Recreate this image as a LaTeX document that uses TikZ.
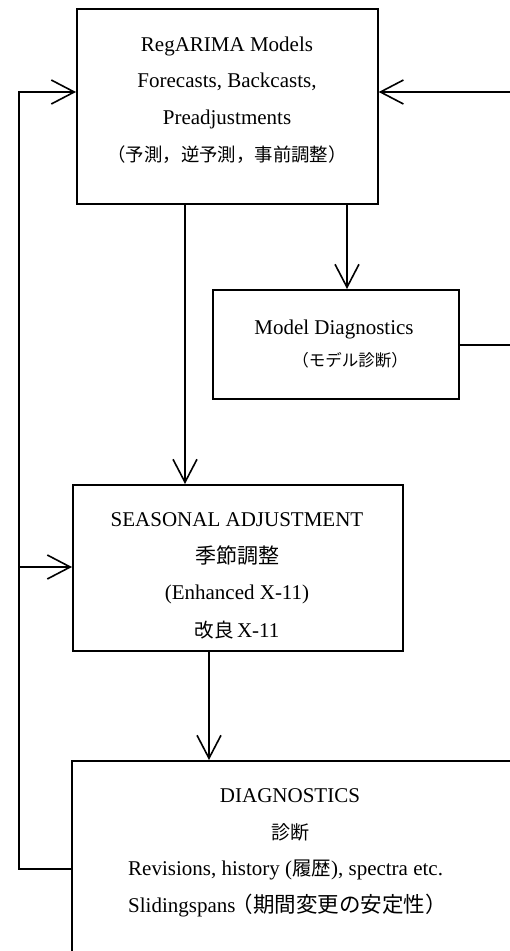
\documentclass[tikz,border=0pt]{standalone}
\usepackage{fontspec}
\setmainfont{Liberation Serif}
\newfontfamily\cjk{Noto Sans CJK JP}
\usetikzlibrary{arrows.meta}
\newcommand{\jz}[2]{{\cjk\fontsize{#1}{#1}\selectfont #2}}
\begin{document}
\begin{tikzpicture}[x=1pt,y=-1pt,
  box/.style={draw, line width=1.7pt, inner sep=0pt, anchor=north west},
  lab/.style={anchor=base, inner sep=0pt, font=\fontsize{21}{25}\selectfont},
  link/.style={line width=1.6pt},
  arr/.style={link, -{Straight Barb[length=23pt,width=24pt]}}]
\useasboundingbox (0,0) rectangle (510,951);
\fill[white] (0,0) rectangle (510,951);
\clip (0,0) rectangle (510,951);
% boxes
\node[box, minimum width=301pt, minimum height=195pt] (top) at (76,8) {};
\node[box, minimum width=246pt, minimum height=109pt] (mdiag) at (212,289) {};
\node[box, minimum width=330pt, minimum height=166pt] (seas) at (72,484) {};
\node[box, minimum width=450pt, minimum height=260pt] (diag) at (71,760) {};
% texts
\node[lab] (t1) at (227,51) {RegARIMA Models};
\node[lab] (t2) at (227,87.5) {Forecasts, Backcasts,};
\node[lab] (t3) at (227,124) {Preadjustments};
\node[lab] (t4) at (227,161) {\jz{18.4}{（予測，逆予測，事前調整）}};
\node[lab] (m1) at (334,334) {Model Diagnostics};
\node[lab] (m2) at (350,366) {\jz{16.5}{（モデル診断）}};
\node[lab] (s1) at (237,526) {SEASONAL ADJUSTMENT};
\node[lab] (s2) at (237,563) {\jz{21}{季節調整}};
\node[lab] (s3) at (237,599) {(Enhanced X-11)};
\node[lab] (s4) at (237,637) {\jz{19.5}{改良}\,X-11};
\node[lab] (d1) at (290,802) {DIAGNOSTICS};
\node[lab] (d2) at (290,839) {\jz{19}{診断}};
\node[lab, anchor=base west] (d3) at (128,875) {Revisions, history (\jz{19.5}{履歴}), spectra etc.};
\node[lab, anchor=base west] (d4) at (128,912) {Slidingspans\kern-4pt\jz{21.5}{（期間変更の安定性）}};
% helper coordinates
\coordinate (xa) at (347,0);
\coordinate (xb) at (185,0);
\coordinate (xc) at (209,0);
\coordinate (xL) at (19,0);
\coordinate (xR) at (516,0);
\coordinate (y1) at (0,92);
\coordinate (y2) at (0,567);
\coordinate (y3) at (0,869);
\coordinate (yR) at (0,345);
% connectors
\draw[arr] (xa |- top.south) -- (xa |- mdiag.north);
\draw[arr] (xb |- top.south) -- (xb |- seas.north);
\draw[arr] (xc |- seas.south) -- (xc |- diag.north);
\draw[arr] (y3 -| diag.west) -- (y3 -| xL) -- (y1 -| xL) -- (y1 -| top.west);
\draw[arr] (y2 -| xL) -- (y2 -| seas.west);
\draw[arr] (yR -| mdiag.east) -- (yR -| xR) -- (y1 -| xR) -- (y1 -| top.east);
\end{tikzpicture}
\end{document}
